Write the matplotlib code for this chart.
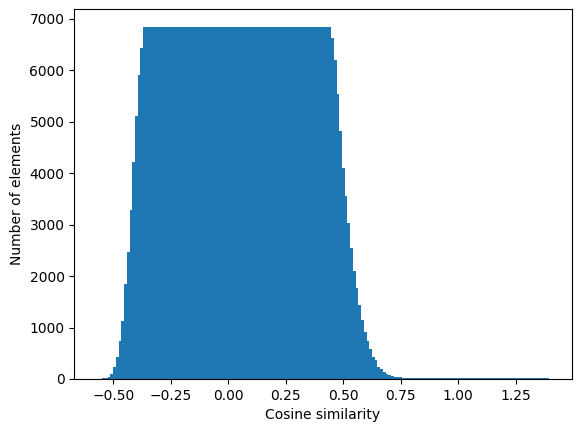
import numpy as np
import matplotlib
matplotlib.use("Agg")
import matplotlib.pyplot as plt

# histogram: range of the bins and count per bin
sim_min = -0.5713
sim_max = 1.3947

rise = [1, 4, 10, 20, 45, 100, 240, 433, 738, 1126, 1845, 2472, 3282,
        4220, 5107, 5903, 6433]

plateau = [6840, 6840, 6840, 6840, 6840, 6840, 6840, 6840, 6840, 6840,
           6840, 6840, 6840, 6840, 6840, 6840, 6840, 6840, 6840, 6840,
           6840, 6840, 6840, 6840, 6840, 6840, 6840, 6840, 6840, 6840,
           6840, 6840, 6840, 6840, 6840, 6840, 6840, 6840, 6840, 6840,
           6840, 6840, 6840, 6840, 6840, 6840, 6840, 6840, 6840, 6840,
           6840, 6840, 6840, 6840, 6840, 6840, 6840, 6840, 6840, 6840,
           6840, 6840, 6840, 6840, 6840, 6840, 6840, 6840, 6840]

fall = [6627, 6194, 5528, 4816, 4091, 3559, 3035, 2544, 2103, 1773, 1437,
        1146, 918, 738, 577, 433, 369, 239, 188, 142, 97, 78, 58, 45, 39,
        32, 28, 26]

tail = [20, 19, 18, 17, 16, 16, 15, 15, 14, 14, 14, 13, 13, 13, 13, 12,
        12, 12, 12, 12, 12, 11, 11, 11, 11, 11, 11, 11, 11, 10, 10, 10,
        10, 10, 10, 10, 10, 10, 10, 10, 10, 10, 10, 10, 10, 10, 10, 10,
        10, 10, 10, 10]

counts = np.array(rise + plateau + fall + tail, dtype=float)
edges = np.linspace(sim_min, sim_max, len(counts) + 1)
centers = (edges[:-1] + edges[1:]) / 2

fig = plt.figure(figsize=(5.8, 4.32), dpi=100)
ax = fig.add_axes([0.128, 0.1227, 0.8577, 0.8558])
ax.hist(centers, bins=edges, weights=counts)
ax.set_xlabel("Cosine similarity")
ax.set_ylabel("Number of elements")

fig.savefig("out.png", dpi=100)
